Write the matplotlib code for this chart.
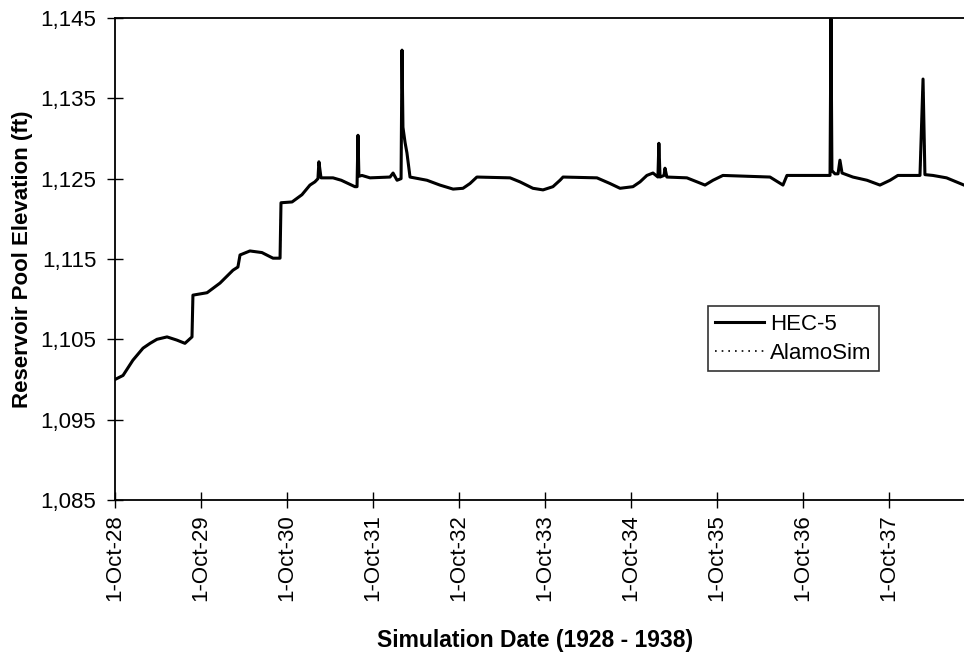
"""
Reservoir pool elevation, HEC-5 vs AlamoSim
"""
import datetime as dt
import matplotlib
import matplotlib.pyplot as plt
import matplotlib.dates as mdates

matplotlib.use('Agg')

plt.rcParams['font.family'] = ['Liberation Sans', 'DejaVu Sans']

DATES = ['1928-10-01', '1928-11-04', '1928-12-16', '1929-01-28', '1929-02-27',
         '1929-03-28', '1929-05-10',
         '1929-06-21', '1929-07-25', '1929-08-24', '1929-08-28', '1929-10-27',
         '1929-12-21', '1930-02-14', '1930-03-07', '1930-03-16', '1930-04-27',
         '1930-06-17', '1930-08-03', '1930-09-02', '1930-09-06', '1930-10-23',
         '1930-12-04', '1931-01-07', '1931-01-28', '1931-02-10', '1931-02-14',
         '1931-02-23', '1931-04-15', '1931-05-20', '1931-07-17', '1931-07-26',
         '1931-07-30', '1931-08-03', '1931-08-16', '1931-09-19', '1931-12-13',
         '1931-12-26', '1932-01-12', '1932-01-29', '1932-02-02', '1932-02-06',
         '1932-02-15', '1932-02-23', '1932-03-07', '1932-05-18', '1932-07-12',
         '1932-09-06', '1932-10-18', '1932-11-17', '1932-12-16', '1933-05-06',
         '1933-06-17', '1933-08-11', '1933-09-23', '1933-11-04', '1933-12-04',
         '1933-12-17', '1934-05-10', '1934-07-04', '1934-08-16', '1934-10-10',
         '1934-11-09', '1934-12-08', '1935-01-03', '1935-01-24', '1935-01-28',
         '1935-02-02', '1935-02-19', '1935-02-23', '1935-03-03', '1935-05-27',
         '1935-07-09', '1935-08-12', '1935-09-15', '1935-10-27', '1936-05-14',
         '1936-07-08', '1936-07-25', '1937-01-24', '1937-01-28', '1937-02-01',
         '1937-02-14', '1937-02-27', '1937-03-07', '1937-03-16', '1937-05-01',
         '1937-06-30', '1937-08-24', '1937-10-06', '1937-11-08', '1938-02-10',
         '1938-02-23', '1938-03-03', '1938-04-06', '1938-06-03', '1938-08-16']

HEC5 = [1100.0, 1100.5, 1102.4, 1103.9, 1104.5,
        1105.0, 1105.3,
        1104.9, 1104.5, 1105.3, 1110.5, 1110.8,
        1112.0, 1113.6, 1114.0, 1115.5, 1116.0,
        1115.8, 1115.1, 1115.1, 1122.0, 1122.1,
        1123.0, 1124.2, 1124.6, 1125.0, 1127.1,
        1125.1, 1125.1, 1124.8, 1124.0, 1124.0,
        1130.4, 1125.3, 1125.4, 1125.1, 1125.2,
        1125.7, 1124.8, 1125.0, 1141.0, 1131.4,
        1129.5, 1128.2, 1125.2, 1124.8, 1124.2,
        1123.7, 1123.8, 1124.4, 1125.2, 1125.1,
        1124.6, 1123.8, 1123.6, 1124.0, 1124.8,
        1125.2, 1125.1, 1124.4, 1123.8, 1124.0,
        1124.6, 1125.4, 1125.7, 1125.2, 1129.4,
        1125.2, 1125.4, 1126.3, 1125.2, 1125.1,
        1124.6, 1124.2, 1124.8, 1125.4, 1125.2,
        1124.2, 1125.4, 1125.4, 1144.9, 1126.0,
        1125.6, 1125.6, 1127.3, 1125.7, 1125.2,
        1124.8, 1124.2, 1124.8, 1125.4, 1125.4,
        1137.4, 1125.5, 1125.4, 1125.1, 1124.2]

# the two models overlap everywhere at this scale
ALAMOSIM = list(HEC5)

YTICKS = [1085, 1095, 1105, 1115, 1125, 1135, 1145]

dates = [dt.datetime.strptime(d, '%Y-%m-%d') for d in DATES]
xticks = [dt.datetime(y, 10, 1) for y in range(1928, 1938)]

fig = plt.figure(figsize=(9.64, 6.54), dpi=100)
ax = fig.add_axes([0.1193, 0.2355, 0.8807, 0.737])

ax.plot(dates, ALAMOSIM, color='black', lw=1.2, linestyle=(0, (1, 3)), label='AlamoSim', zorder=2)
ax.plot(dates, HEC5, color='black', lw=2.2, label='HEC-5', zorder=3)

ax.set_xlim(dt.datetime(1928, 10, 1), dt.datetime(1938, 8, 16))
ax.set_ylim(1085, 1145)
ax.set_yticks(YTICKS)
ax.set_yticklabels([f'{v:,}' for v in YTICKS])
ax.set_xticks(xticks)
ax.xaxis.set_major_formatter(mdates.DateFormatter('1-%b-%y'))
ax.tick_params(axis='both', direction='inout', length=11, width=1, labelsize=16, colors='black')
ax.tick_params(axis='y', pad=8)
ax.tick_params(axis='x', pad=5)
plt.setp(ax.get_xticklabels(), rotation=90)

ax.spines['right'].set_visible(False)
for s in ['left', 'bottom', 'top']:
    ax.spines[s].set_linewidth(1.3)

ax.set_ylabel('Reservoir Pool Elevation (ft)', fontsize=16, fontweight='bold', labelpad=5)
fig.text(0.555, 0.0214, 'Simulation Date (1928 - 1938)', fontsize=16.5, fontweight='bold',
         ha='center', va='center')

handles, labels = ax.get_legend_handles_labels()
leg = ax.legend(handles[::-1], labels[::-1], loc='upper left', bbox_to_anchor=(0.698, 0.4025),
                fontsize=16, frameon=True, fancybox=False, edgecolor='black',
                handlelength=2.2, handletextpad=0.25, borderpad=0.35, labelspacing=0.35,
                borderaxespad=0)
leg.get_frame().set_linewidth(1.2)

fig.savefig('out.png', dpi=100)
